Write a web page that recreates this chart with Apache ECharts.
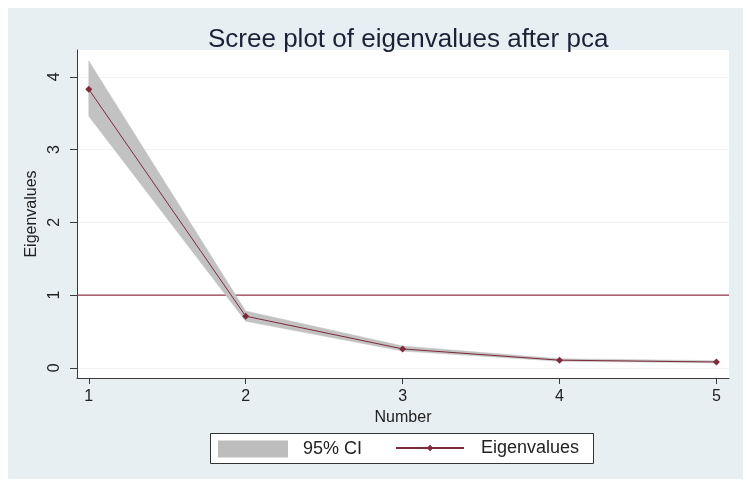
<!DOCTYPE html>
<html>
<head>
<meta charset="utf-8">
<script src="https://cdn.jsdelivr.net/npm/echarts@6/dist/echarts.min.js"></script>
<style>html,body{margin:0;padding:0;background:#fff;}#c{width:747px;height:484px;}</style>
</head>
<body>
<div id="c"></div>
<script>
// Data
const numbers = [1, 2, 3, 4, 5];
const eigenvalues = [3.83, 0.71, 0.26, 0.105, 0.08];
const ciLower = [3.46, 0.64, 0.23, 0.09, 0.068];
const ciUpper = [4.22, 0.78, 0.30, 0.125, 0.098];
const yTicks = [0, 1, 2, 3, 4];
const xTicks = [1, 2, 3, 4, 5];
const refLine = 1;
const xMin = 0.925, xMax = 5.08;

const FONT = '"Liberation Sans", Arial, sans-serif';
const maroon = '#7d2a3a';

const chart = echarts.init(document.getElementById('c'), null, {renderer: 'canvas'});

const bandData = numbers.map((x, i) => [x, ciLower[i], ciUpper[i]]);
const lineData = numbers.map((x, i) => [x, eigenvalues[i]]);
const refData = [[xMin, refLine], [xMax, refLine]];

const option = {
  animation: false,
  backgroundColor: '#ffffff',
  graphic: [
    {type: 'rect', left: 8, top: 8, shape: {width: 735, height: 471}, style: {fill: '#e8eff2'}, z: -10, silent: true},
    {type: 'rect', left: 210, top: 433, shape: {width: 383, height: 30}, style: {fill: '#ffffff', stroke: '#333333', lineWidth: 1}, z: 1, silent: true}
  ],
  title: {
    text: 'Scree plot of eigenvalues after pca',
    left: 203, top: 22,
    textStyle: {fontFamily: FONT, fontSize: 26, fontWeight: 'normal', color: '#1c2236'}
  },
  grid: {left: 77, right: 18, top: 50, bottom: 106, show: true, backgroundColor: '#ffffff', borderWidth: 0},
  legend: [
    {
      data: [{name: '95% CI', icon: 'rect'}],
      left: 218, top: 440, itemWidth: 70, itemHeight: 17, itemGap: 10,
      textStyle: {fontFamily: FONT, fontSize: 18, color: '#222', padding: [0, 0, 0, 10]},
      padding: 0, z: 5
    },
    {
      data: ['Eigenvalues'],
      left: 395, top: 439, itemWidth: 68, itemHeight: 8,
      textStyle: {fontFamily: FONT, fontSize: 18, color: '#222', padding: [0, 0, 0, 12]},
      padding: 0, z: 5
    }
  ],
  xAxis: {
    type: 'value', min: xMin, max: xMax,
    name: 'Number', nameLocation: 'middle', nameGap: 21,
    nameTextStyle: {fontFamily: FONT, fontSize: 16, color: '#222'},
    axisLine: {show: true, onZero: false, lineStyle: {color: '#3a3a3a', width: 1}},
    axisTick: {show: true, length: 6, customValues: xTicks, lineStyle: {color: '#3a3a3a'}},
    axisLabel: {customValues: xTicks, margin: 11, fontFamily: FONT, fontSize: 16, color: '#222'},
    splitLine: {show: false}
  },
  yAxis: {
    type: 'value', min: -0.14, max: 4.37,
    name: 'Eigenvalues', nameLocation: 'middle', nameGap: 37, nameRotate: 90,
    nameTextStyle: {fontFamily: FONT, fontSize: 16, color: '#222'},
    axisLine: {show: true, onZero: false, lineStyle: {color: '#3a3a3a', width: 1}},
    axisTick: {show: true, length: 7, customValues: yTicks, lineStyle: {color: '#3a3a3a'}},
    axisLabel: {customValues: yTicks, rotate: 90, margin: 14, fontFamily: FONT, fontSize: 16, color: '#222'},
    splitLine: {show: true, lineStyle: {color: '#eef3f5', width: 1}}
  },
  series: [
    {
      name: 'ref',
      type: 'line',
      data: refData,
      z: 1,
      symbol: 'none',
      silent: true,
      lineStyle: {color: '#94364b', width: 1.2},
      itemStyle: {color: '#94364b'}
    },
    {
      name: '95% CI',
      type: 'custom',
      data: bandData,
      encode: {x: 0, y: [1, 2]},
      itemStyle: {color: '#bdbdbd'},
      z: 2,
      renderItem: function (params, api) {
        if (params.dataIndex !== 0) return null;
        const pts = [];
        for (let i = 0; i < numbers.length; i++) pts.push(api.coord([numbers[i], ciUpper[i]]));
        for (let i = numbers.length - 1; i >= 0; i--) pts.push(api.coord([numbers[i], ciLower[i]]));
        return {
          type: 'polygon',
          shape: {points: pts},
          style: {fill: '#c2c2c2', stroke: '#c2c2c2', lineWidth: 0.5}
        };
      }
    },
    {
      name: 'Eigenvalues',
      type: 'line',
      data: lineData,
      z: 3,
      symbol: 'diamond', symbolSize: 7,
      lineStyle: {color: maroon, width: 1},
      itemStyle: {color: maroon}
    }
  ]
};
chart.setOption(option);
</script>
</body>
</html>
